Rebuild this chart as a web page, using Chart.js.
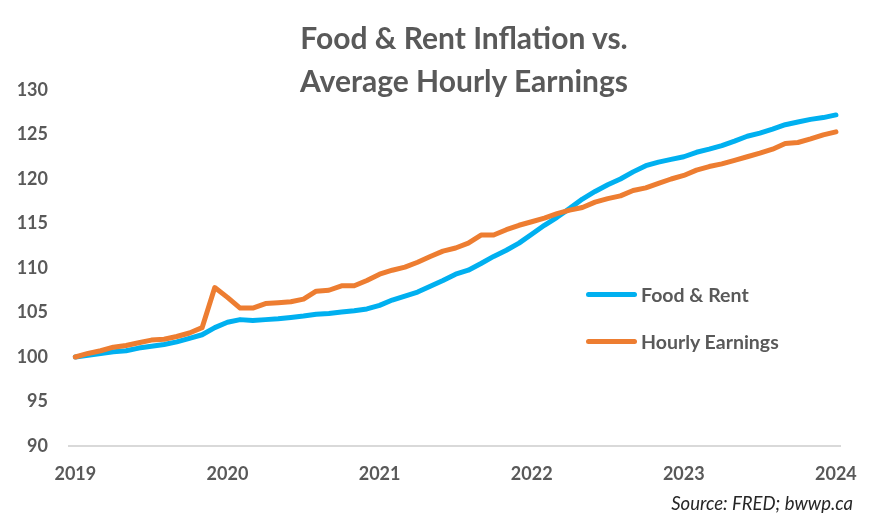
<!DOCTYPE html>
<html>
<head>
<meta charset="utf-8">
<script src="https://cdn.jsdelivr.net/npm/chart.js@4.4.0/dist/chart.umd.min.js"></script>
<style>
  html, body { margin: 0; padding: 0; background: #fff; }
  #wrap { position: relative; width: 874px; height: 525px; overflow: hidden; font-family: Lato, "Open Sans", sans-serif; }
  #c { position: absolute; left: 0; top: 0; }
  #title { position: absolute; left: 214px; width: 500px; top: 16px; text-align: center; color: #595959; font-weight: bold; font-size: 30px; line-height: 43px; }
  #legend { position: absolute; left: 586px; top: 280px; }
  .item { position: absolute; left: 0; height: 30px; white-space: nowrap; color: #595959; font-weight: bold; font-size: 19.5px; }
  .swatch { position: absolute; left: 0; top: 12px; width: 51px; height: 5px; border-radius: 3px; }
  .lbl { position: absolute; left: 55px; top: 0; line-height: 30px; }
  #source { position: absolute; right: 21px; top: 491px; color: #262626; font-style: italic; font-size: 18.5px; line-height: 24px; }
</style>
</head>
<body>
<div id="wrap">
  <canvas id="c" width="874" height="525"></canvas>
  <div id="title">Food &amp; Rent Inflation vs.<br>Average Hourly Earnings</div>
  <div id="legend"></div>
  <div id="source">Source: FRED; bwwp.ca</div>
</div>
<script>
const months = [
  '2019-01','2019-02','2019-03','2019-04','2019-05','2019-06','2019-07','2019-08','2019-09','2019-10','2019-11','2019-12',
  '2020-01','2020-02','2020-03','2020-04','2020-05','2020-06','2020-07','2020-08','2020-09','2020-10','2020-11','2020-12',
  '2021-01','2021-02','2021-03','2021-04','2021-05','2021-06','2021-07','2021-08','2021-09','2021-10','2021-11','2021-12',
  '2022-01','2022-02','2022-03','2022-04','2022-05','2022-06','2022-07','2022-08','2022-09','2022-10','2022-11','2022-12',
  '2023-01','2023-02','2023-03','2023-04','2023-05','2023-06','2023-07','2023-08','2023-09','2023-10','2023-11','2023-12',
  '2024-01'
];
const yearLabels = ['2019','2020','2021','2022','2023','2024'];
const yearTickMonths = ['2019-01','2020-01','2021-01','2022-01','2023-01','2024-01'];

const foodRent = [
  100.0,100.2,100.4,100.6,100.7,101.0,101.2,101.4,101.7,102.1,102.5,103.3,
  103.9,104.2,104.1,104.2,104.3,104.45,104.6,104.8,104.9,105.05,105.2,105.4,
  105.8,106.4,106.85,107.3,107.96,108.6,109.3,109.75,110.5,111.3,112.0,112.8,
  113.8,114.8,115.7,116.7,117.75,118.6,119.35,120.0,120.8,121.5,121.9,122.2,
  122.5,123.0,123.35,123.75,124.25,124.8,125.15,125.6,126.1,126.4,126.7,126.9,
  127.2
];
const hourlyEarnings = [
  100.0,100.4,100.7,101.1,101.3,101.6,101.9,102.0,102.3,102.7,103.3,107.8,
  106.7,105.5,105.5,106.0,106.1,106.2,106.5,107.4,107.5,108.0,108.0,108.6,
  109.3,109.75,110.1,110.65,111.3,111.9,112.25,112.8,113.7,113.7,114.3,114.8,
  115.2,115.6,116.1,116.5,116.8,117.4,117.8,118.1,118.7,119.0,119.5,120.0,
  120.4,121.0,121.4,121.7,122.1,122.5,122.9,123.35,124.0,124.1,124.5,124.95,
  125.3
];
const seriesNames = ['Food & Rent', 'Hourly Earnings'];
const seriesColors = ['#00B0F0', '#ED7D31'];

const toPoints = vals => vals.map((v, i) => ({ x: i, y: v }));
const tickIdx = yearTickMonths.map(m => months.indexOf(m));

const font = { family: 'Lato', size: 18, weight: 'bold' };

new Chart(document.getElementById('c'), {
  type: 'line',
  data: {
    datasets: [
      { label: seriesNames[0], data: toPoints(foodRent), borderColor: seriesColors[0], backgroundColor: seriesColors[0], order: 1 },
      { label: seriesNames[1], data: toPoints(hourlyEarnings), borderColor: seriesColors[1], backgroundColor: seriesColors[1], order: 0 }
    ]
  },
  options: {
    responsive: false,
    animation: false,
    devicePixelRatio: 1,
    layout: { padding: { top: 90, right: 29, left: 0, bottom: 0 } },
    elements: {
      line: { borderWidth: 5, tension: 0, borderCapStyle: 'round', borderJoinStyle: 'round' },
      point: { radius: 0, hoverRadius: 0 }
    },
    plugins: { legend: { display: false }, tooltip: { enabled: false }, title: { display: false } },
    scales: {
      x: {
        type: 'linear',
        min: -0.5,
        max: 60.4,
        afterBuildTicks: s => { s.ticks = tickIdx.map(v => ({ value: v })); },
        afterFit: s => { s.height = 79; },
        grid: { display: false, drawTicks: false },
        border: { display: true, color: '#d9d9d9', width: 2 },
        ticks: {
          autoSkip: false, maxRotation: 0, padding: 17, color: '#595959', font,
          callback: v => yearLabels[tickIdx.indexOf(v)]
        }
      },
      y: {
        min: 90, max: 130,
        afterFit: s => { s.width = 69; },
        grid: { display: false, drawTicks: false },
        border: { display: false },
        ticks: { stepSize: 5, padding: 21, color: '#595959', font }
      }
    }
  }
});

const legend = document.getElementById('legend');
seriesNames.forEach((name, i) => {
  const item = document.createElement('div');
  item.className = 'item';
  item.style.top = (i * 47) + 'px';
  const sw = document.createElement('div');
  sw.className = 'swatch';
  sw.style.background = seriesColors[i];
  const lb = document.createElement('div');
  lb.className = 'lbl';
  lb.textContent = name;
  item.appendChild(sw); item.appendChild(lb);
  legend.appendChild(item);
});
</script>
</body>
</html>
